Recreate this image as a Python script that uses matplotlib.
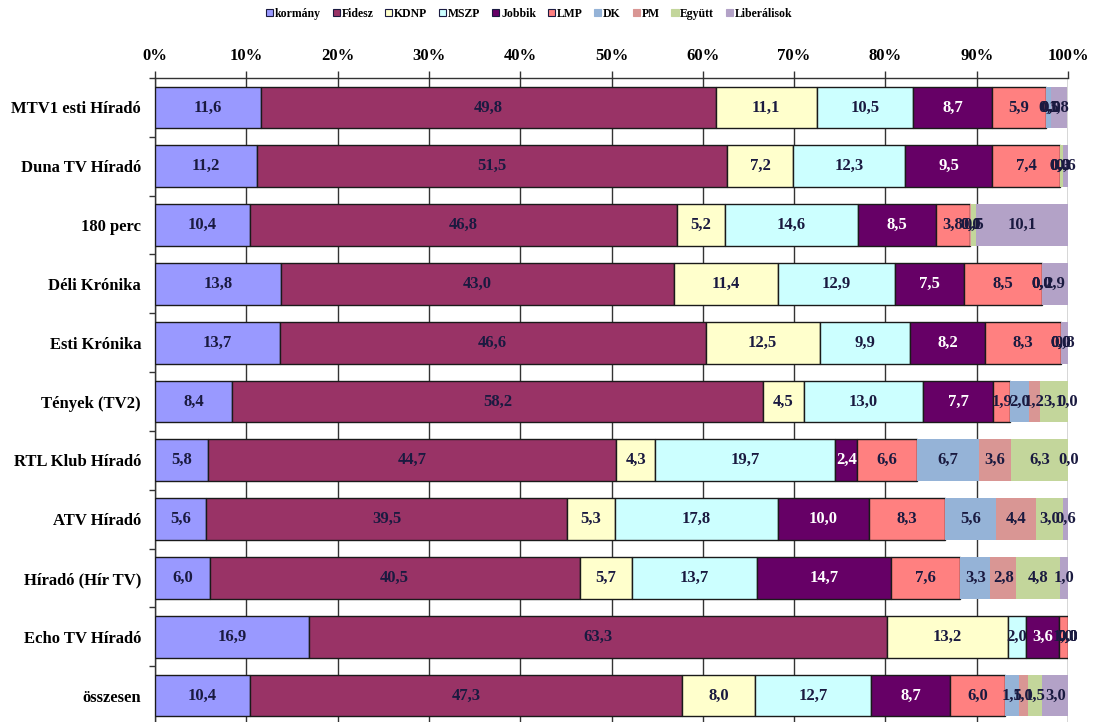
import matplotlib
matplotlib.use("Agg")
import matplotlib.pyplot as plt
from matplotlib.patches import Patch
import numpy as np

categories = ["MTV1 esti Híradó", "Duna TV Híradó", "180 perc", "Déli Krónika",
              "Esti Krónika", "Tények (TV2)", "RTL Klub Híradó", "ATV Híradó",
              "Híradó (Hír TV)", "Echo TV Híradó", "összesen"]

series_names = ["kormány", "Fidesz", "KDNP", "MSZP", "Jobbik", "LMP", "DK", "PM",
                "Együtt", "Liberálisok"]

kormany = [11.6, 11.2, 10.4, 13.8, 13.7, 8.4, 5.8, 5.6, 6.0, 16.9, 10.4]
fidesz = [49.8, 51.5, 46.8, 43.0, 46.6, 58.2, 44.7, 39.5, 40.5, 63.3, 47.3]
kdnp = [11.1, 7.2, 5.2, 11.4, 12.5, 4.5, 4.3, 5.3, 5.7, 13.2, 8.0]
mszp = [10.5, 12.3, 14.6, 12.9, 9.9, 13.0, 19.7, 17.8, 13.7, 2.0, 12.7]
jobbik = [8.7, 9.5, 8.5, 7.5, 8.2, 7.7, 2.4, 10.0, 14.7, 3.6, 8.7]
lmp = [5.9, 7.4, 3.8, 8.5, 8.3, 1.9, 6.6, 8.3, 7.6, 1.0, 6.0]
dk = [0.5, 0.0, 0.0, 0.0, 0.0, 2.0, 6.7, 5.6, 3.3, 0.0, 1.5]
pm = [0.0, 0.0, 0.1, 0.0, 0.0, 1.2, 3.6, 4.4, 2.8, 0.0, 1.0]
egyutt = [0.0, 0.3, 0.5, 0.0, 0.0, 3.1, 6.3, 3.0, 4.8, 0.0, 1.5]
liberalisok = [1.8, 0.6, 10.1, 2.9, 0.8, 0.0, 0.0, 0.6, 1.0, 0.0, 3.0]

series = [kormany, fidesz, kdnp, mszp, jobbik, lmp, dk, pm, egyutt, liberalisok]
colors = ["#9999FF", "#993366", "#FFFFCC", "#CCFFFF", "#660066", "#FF8080",
          "#95B3D7", "#D99694", "#C3D69B", "#B3A2C7"]
edged = [True, True, True, True, True, True, False, False, False, False]
label_colors = ["#1a1a40", "#1a1a40", "#1a1a40", "#1a1a40", "white", "#1a1a40",
                "#1a1a40", "#1a1a40", "#1a1a40", "#1a1a40"]

plt.rcParams['font.family'] = ['Liberation Serif', 'DejaVu Serif']
plt.rcParams['font.weight'] = 'bold'

fig = plt.figure(figsize=(10.98, 7.22), dpi=100)
ax = fig.add_axes([155/1098, -3/722, (1068-155)/1098, (725-78)/722])

y = np.arange(len(categories))
left = np.zeros(len(categories))
for name, vals, c, e, lc in zip(series_names, series, colors, edged, label_colors):
    vals = np.array(vals)
    ax.barh(y, vals, left=left, height=0.71, color=c,
            edgecolor="#1a1a1a" if e else "none", linewidth=1.0 if e else 0,
            zorder=3)
    for yi, l, v in zip(y, left, vals):
        ax.text(l + v / 2, yi, f"{v:.1f}".replace(".", ","), ha="center",
                va="center", fontsize=12, fontweight="bold", color=lc, zorder=4)
    left += vals

ax.set_xlim(0, 100)
ax.set_ylim(len(categories) - 0.5, -0.5)
ax.xaxis.tick_top()
ax.set_xticks(np.arange(0, 101, 10))
ax.set_xticklabels([f"{t}%" for t in range(0, 101, 10)], fontsize=12, fontweight="bold")
ax.tick_params(axis="x", direction="out", length=5, width=1, color="#333333", pad=5)
ax.set_yticks(y)
ax.set_yticklabels(categories, fontsize=12, fontweight="bold")
ax.tick_params(axis="y", which="major", length=0, pad=10)
ax.set_yticks(np.arange(-0.5, len(categories), 1), minor=True)
ax.tick_params(axis="y", which="minor", length=4, width=1, color="#333333")
ax.grid(axis="x", color="#333333", linewidth=1.0, zorder=0)
for s in ["right", "bottom"]:
    ax.spines[s].set_visible(False)
for s in ["left", "top"]:
    ax.spines[s].set_color("#333333")
    ax.spines[s].set_linewidth(1.0)

handles = [Patch(facecolor=c, edgecolor="#1a1a40" if e else c, linewidth=0.8)
           for c, e in zip(colors, edged)]
fig.legend(handles, series_names, loc="center", bbox_to_anchor=(0.482, 0.981),
           ncol=10, frameon=False, handlelength=0.6, handleheight=0.6,
           handletextpad=0.15, columnspacing=1.0, prop={"weight": "bold", "size": 8.5})

fig.savefig("out.png", dpi=100)
